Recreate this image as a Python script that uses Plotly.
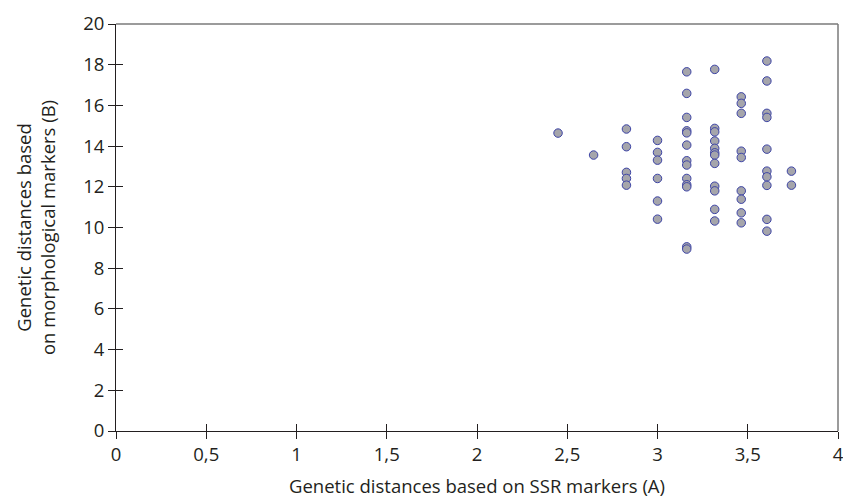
import plotly.graph_objects as go

# x columns (SSR distances) and y values (morphological distances)
ssr_a = ([2.449] + [2.646] + [2.828] * 5 + [3.0] * 6 + [3.162] * 13 +
         [3.317] * 12 + [3.464] * 9 + [3.606] * 10 + [3.742] * 2)
morph_b = ([14.64] +
           [13.56] +
           [14.84, 13.97, 12.71, 12.41, 12.08] +
           [14.28, 13.69, 13.31, 12.41, 11.30, 10.41] +
           [17.65, 16.59, 15.41, 14.75, 14.65, 14.05, 13.28, 13.07, 12.41, 12.10, 12.00, 9.05, 8.94] +
           [17.77, 14.87, 14.70, 14.25, 13.89, 13.67, 13.56, 13.15, 12.03, 11.80, 10.89, 10.32] +
           [16.42, 16.10, 15.61, 13.75, 13.44, 11.80, 11.39, 10.72, 10.23] +
           [18.18, 17.20, 15.61, 15.41, 13.85, 12.77, 12.49, 12.07, 10.40, 9.82] +
           [12.77, 12.08])

x_ticks = [0, 0.5, 1, 1.5, 2, 2.5, 3, 3.5, 4]
x_ticktext = ["0", "0,5", "1", "1,5", "2", "2,5", "3", "3,5", "4"]
y_ticks = [0, 2, 4, 6, 8, 10, 12, 14, 16, 18, 20]

x_title = "Genetic distances based on SSR markers (A)"
y_title = "Genetic distances based<br>on morphological markers (B)"

FONT = "Open Sans"
TXT = "#231f20"
FS = 18.5

fig = go.Figure()
fig.add_trace(go.Scatter(
    x=ssr_a, y=morph_b, mode="markers",
    marker=dict(size=8.5, color="#a5a5ab", line=dict(color="#3d44a6", width=1)),
    showlegend=False, hoverinfo="x+y",
))
# dummy trace for the overlay axes (inner half of the crossing ticks)
fig.add_trace(go.Scatter(x=[None], y=[None], xaxis="x2", yaxis="y2", showlegend=False))

fig.update_layout(
    width=843, height=500,
    margin=dict(l=116, r=5, t=24, b=69),
    paper_bgcolor="white", plot_bgcolor="white",
    font=dict(family=FONT, size=FS, color=TXT),
    xaxis=dict(
        range=[0, 4], tickvals=x_ticks, ticktext=x_ticktext, automargin=False,
        ticklabeloverflow="allow",
        showgrid=False, zeroline=False,
        showline=True, linecolor="#231f20", linewidth=1,
        ticks="outside", ticklen=7, tickcolor="#231f20",
        tickfont=dict(family=FONT, size=FS, color=TXT),
        title=dict(text=x_title, font=dict(family=FONT, size=FS, color=TXT), standoff=14),
    ),
    yaxis=dict(
        range=[0, 20], tickvals=y_ticks, automargin=False,
        showgrid=False, zeroline=False,
        showline=True, linecolor="#231f20", linewidth=1,
        ticks="outside", ticklen=7, tickcolor="#231f20",
        tickfont=dict(family=FONT, size=FS, color=TXT),
        title=dict(text=y_title, font=dict(family=FONT, size=FS, color=TXT), standoff=22),
    ),
    xaxis2=dict(overlaying="x", range=[0, 4], tickvals=x_ticks, showticklabels=False,
                ticks="inside", ticklen=7, tickcolor="#231f20", showgrid=False,
                zeroline=False, showline=False, side="bottom", anchor="y2", automargin=False),
    yaxis2=dict(overlaying="y", range=[0, 20], tickvals=y_ticks, showticklabels=False,
                ticks="inside", ticklen=7, tickcolor="#231f20", showgrid=False,
                zeroline=False, showline=False, side="left", anchor="x2", automargin=False),
    shapes=[
        dict(type="line", xref="paper", yref="paper", x0=0, x1=1, y0=1, y1=1,
             line=dict(color="#7a7a7a", width=1.5)),
        dict(type="line", xref="paper", yref="paper", x0=1, x1=1, y0=0, y1=1,
             line=dict(color="#7a7a7a", width=1.5)),
    ],
)

fig.write_html("out.html",
               config={"displayModeBar": False},
               post_script="document.body.style.margin='0px';document.body.style.overflow='hidden';")
